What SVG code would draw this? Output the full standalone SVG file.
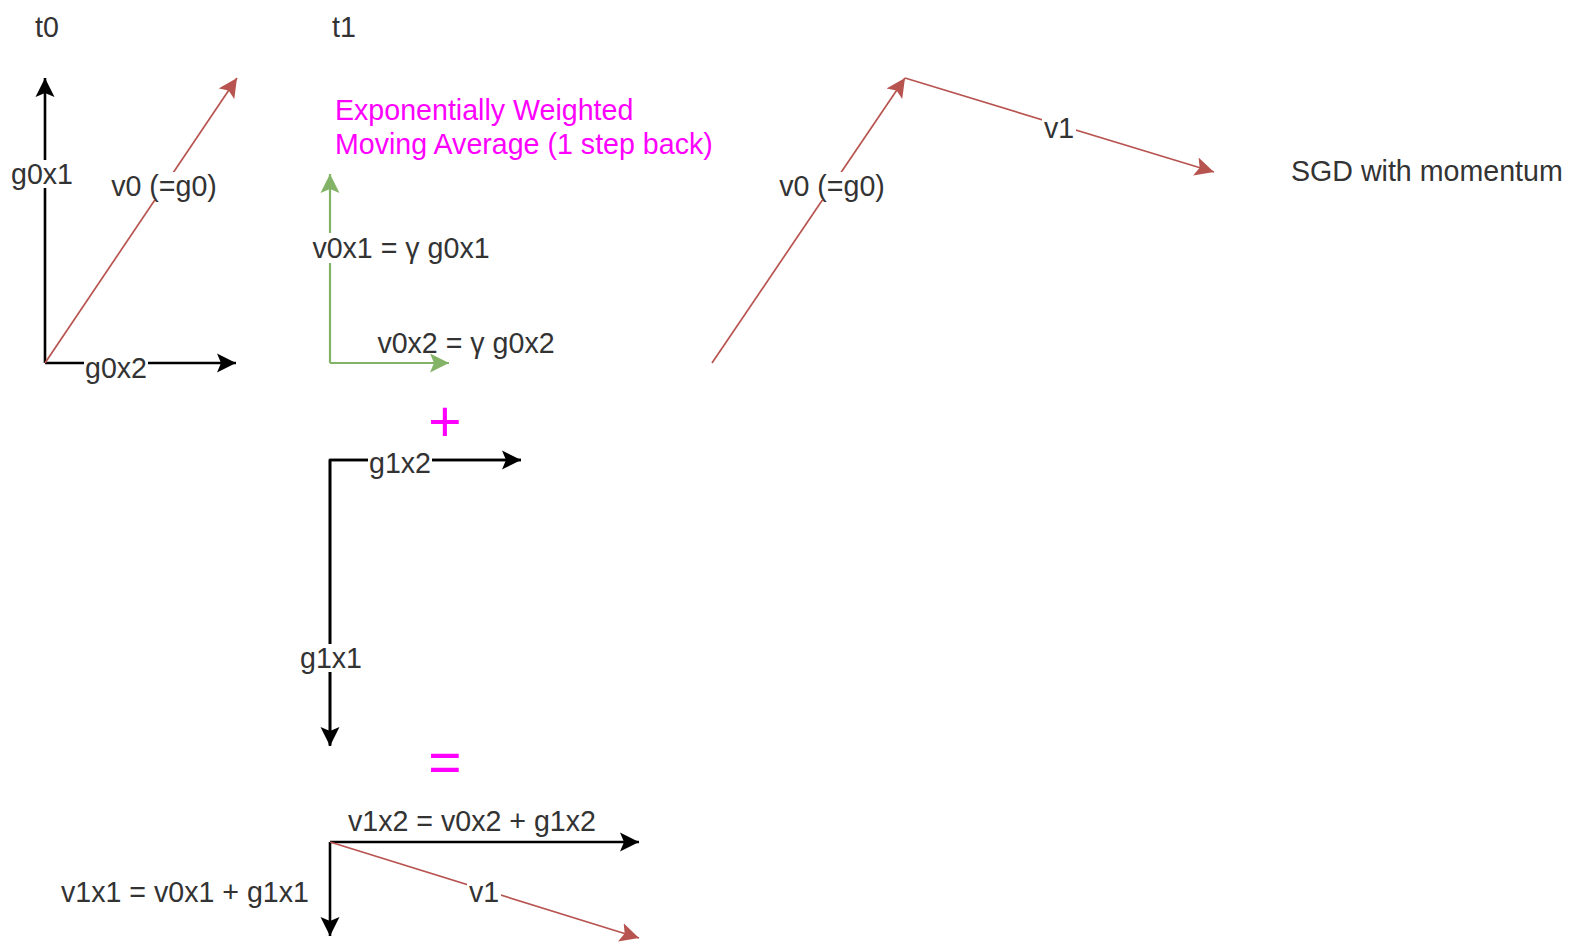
<svg xmlns="http://www.w3.org/2000/svg" width="1571" height="943" viewBox="0 0 1571 943">
<style>
text{font-family:"Liberation Sans",Arial,sans-serif;font-size:28.6px;fill:#333333}
.c{text-anchor:middle;dominant-baseline:central}
.m{fill:#FF00FF}
.big{font-size:57px;fill:#FF00FF;text-anchor:middle;dominant-baseline:central}
.bk{stroke:#000;stroke-width:2.6;fill:none}
.rd{stroke:#b85450;stroke-width:1.7;fill:none}
.gr{stroke:#82b366;stroke-width:2.2;fill:none}
.bg{fill:#fff}
</style>
<defs>
<marker id="ab" viewBox="0 -10 20 20" refX="19" refY="0" markerWidth="20" markerHeight="20" markerUnits="userSpaceOnUse" orient="auto"><path d="M0,-9.5 L19,0 L0,9.5 L4,0 Z" fill="#000"/></marker>
<marker id="ar" viewBox="0 -10 20 20" refX="19" refY="0" markerWidth="20" markerHeight="20" markerUnits="userSpaceOnUse" orient="auto"><path d="M0,-9.5 L19,0 L0,9.5 L4,0 Z" fill="#b85450"/></marker>
<marker id="ag" viewBox="0 -10 20 20" refX="19" refY="0" markerWidth="20" markerHeight="20" markerUnits="userSpaceOnUse" orient="auto"><path d="M0,-9.5 L19,0 L0,9.5 L4,0 Z" fill="#82b366"/></marker>
</defs>
<g id="connectors">
<line class="bk" x1="45" y1="363" x2="45" y2="78" marker-end="url(#ab)"/>
<line class="bk" x1="45" y1="363" x2="236" y2="363" marker-end="url(#ab)"/>
<line class="rd" x1="45" y1="363" x2="237" y2="78" marker-end="url(#ar)"/>
<line class="gr" x1="330" y1="363" x2="330" y2="174" marker-end="url(#ag)"/>
<line class="gr" x1="330" y1="363" x2="449" y2="363" marker-end="url(#ag)"/>
<polyline class="bk" points="330,745 330,460 521,460"/>
<line class="bk" x1="330" y1="460" x2="521" y2="460" marker-end="url(#ab)"/>
<line class="bk" x1="330" y1="460" x2="330" y2="746" marker-end="url(#ab)"/>
<line class="bk" x1="330" y1="842" x2="639" y2="842" marker-end="url(#ab)"/>
<line class="bk" x1="330" y1="842" x2="330" y2="936" marker-end="url(#ab)"/>
<line class="rd" x1="330" y1="842" x2="639" y2="938" marker-end="url(#ar)"/>
<line class="rd" x1="712" y1="363" x2="905" y2="78" marker-end="url(#ar)"/>
<line class="rd" x1="905" y1="78" x2="1214" y2="172" marker-end="url(#ar)"/>
</g>
<g id="labels">
<g id="t0"><text class="c" x="47" y="27">t0</text></g>
<g id="t1"><text class="c" x="344" y="27">t1</text></g>
<g id="lbl-g0x1"><rect class="bg" x="9" y="160" width="66" height="28"/><text class="c" x="42" y="174">g0x1</text></g>
<g id="lbl-g0x2"><rect class="bg" x="84" y="354" width="64" height="28"/><text class="c" x="116" y="368">g0x2</text></g>
<g id="lbl-v0-left"><rect class="bg" x="108" y="172" width="112" height="28"/><text class="c" x="164" y="186">v0 (=g0)</text></g>
<g id="ewma"><text class="m" x="335" y="120">Exponentially Weighted</text><text class="m" x="335" y="154">Moving Average (1 step back)</text></g>
<g id="lbl-v0x1"><rect class="bg" x="309" y="233" width="184" height="30"/><text class="c" x="401" y="248">v0x1 = γ g0x1</text></g>
<g id="lbl-v0x2"><text class="c" x="466" y="343">v0x2 = γ g0x2</text></g>
<g id="plus"><text class="big" x="445" y="421">+</text></g>
<g id="lbl-g1x2"><rect class="bg" x="368" y="449" width="64" height="28"/><text class="c" x="400" y="463">g1x2</text></g>
<g id="lbl-g1x1"><rect class="bg" x="298" y="644" width="66" height="28"/><text class="c" x="331" y="658">g1x1</text></g>
<g id="equals"><text class="big" x="445" y="762">=</text></g>
<g id="lbl-v1x2"><text class="c" x="472" y="821">v1x2 = v0x2 + g1x2</text></g>
<g id="lbl-v1x1"><text class="c" x="185" y="892">v1x1 = v0x1 + g1x1</text></g>
<g id="lbl-v1-bottom"><rect class="bg" x="467" y="878" width="34" height="28"/><text class="c" x="484" y="892">v1</text></g>
<g id="lbl-v0-right"><rect class="bg" x="776" y="172" width="112" height="28"/><text class="c" x="832" y="186">v0 (=g0)</text></g>
<g id="lbl-v1-right"><rect class="bg" x="1042" y="114" width="34" height="28"/><text class="c" x="1059" y="128">v1</text></g>
<g id="sgd"><text x="1291" y="171" dominant-baseline="central">SGD with momentum</text></g>
</g>
</svg>
